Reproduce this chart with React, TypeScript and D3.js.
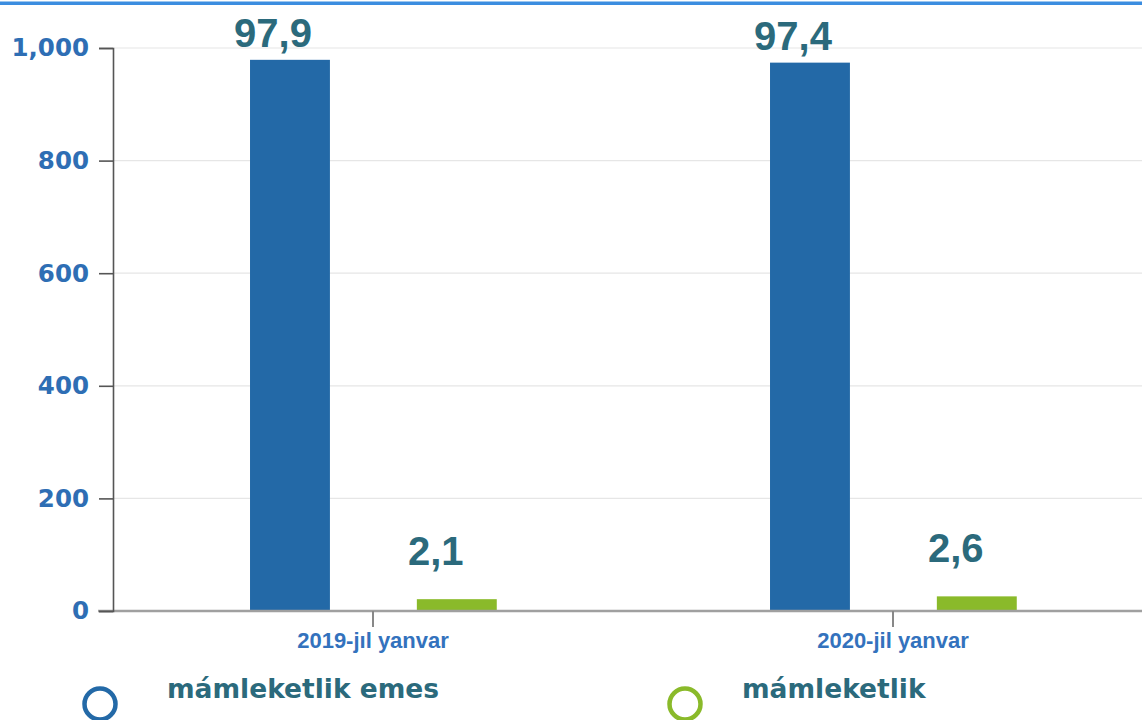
import { useEffect, useRef } from "react";
import * as d3 from "d3";

const categories = ["2019-jıl yanvar", "2020-jil yanvar"];
const seriesNames = ["mámleketlik emes", "mámleketlik"];
const nonStateValues = [979, 974];
const stateValues = [21, 26];
const valueLabels = [
  ["97,9", "2,1"],
  ["97,4", "2,6"],
];
const yTicks = [0, 200, 400, 600, 800, 1000];

const colors = ["#2369a7", "#8aba2a"];
const labelColor = "#2b6a7c";

const width = 1142;
const height = 720;
const margin = { left: 113, top: 48, bottom: 611 };

const App = () => {
  const yAxisRef = useRef<SVGGElement>(null);
  const xAxisRef = useRef<SVGGElement>(null);

  const x0 = d3
    .scaleBand<string>()
    .domain(categories)
    .range([margin.left, margin.left + 1040]);
  const bw = x0.bandwidth();
  const x1 = d3
    .scaleBand<string>()
    .domain(seriesNames)
    .range([bw * 0.2635, bw * 0.738])
    .paddingInner(0.521);
  const y = d3.scaleLinear().domain([0, 1000]).range([margin.bottom, margin.top]);

  const rows = categories.map((c, i) => ({
    category: c,
    values: [nonStateValues[i], stateValues[i]],
    labels: valueLabels[i],
  }));

  useEffect(() => {
    const yg = d3.select(yAxisRef.current!);
    yg.selectAll("*").remove();
    yg.call(
      d3
        .axisLeft(y)
        .tickValues(yTicks)
        .tickSize(14)
        .tickPadding(10)
        .tickFormat(d3.format(","))
    );
    yg.select(".domain").attr("stroke", "#555").attr("stroke-width", 1.6);
    yg.selectAll(".tick line").attr("stroke", "#555").attr("stroke-width", 1.6);
    yg.selectAll(".tick text")
      .attr("fill", "#2e6eb4")
      .attr("font-family", "DejaVu Sans")
      .attr("font-weight", "bold")
      .attr("font-size", 24.5);

    const xg = d3.select(xAxisRef.current!);
    xg.selectAll("*").remove();
    xg.call(d3.axisBottom(x0).tickSize(16).tickSizeOuter(0).tickPadding(5));
    xg.select(".domain").remove();
    xg.selectAll(".tick line").attr("stroke", "#888").attr("stroke-width", 2);
    xg.selectAll(".tick text")
      .attr("fill", "#3372bd")
      .attr("font-family", "Liberation Sans, Arial, sans-serif")
      .attr("font-weight", "bold")
      .attr("font-size", 22);
  }, []);

  return (
    <svg
      width={width}
      height={height}
      style={{ position: "absolute", left: 0, top: 0, background: "#fff" }}
    >
      <rect x={0} y={1.5} width={width} height={3.5} fill="#3b8de0" />
      {yTicks
        .filter((t) => t > 0)
        .map((t) => (
          <line
            key={t}
            x1={margin.left}
            x2={width}
            y1={y(t)}
            y2={y(t)}
            stroke="#e6e6e6"
            strokeWidth={1.2}
          />
        ))}
      {rows.map((r) => (
        <g key={r.category} transform={`translate(${x0(r.category)},0)`}>
          {r.values.map((v, j) => (
            <rect
              key={j}
              x={x1(seriesNames[j])}
              y={y(v)}
              width={x1.bandwidth()}
              height={y(0) - y(v)}
              fill={colors[j]}
            />
          ))}
          {r.values.map((v, j) => (
            <text
              key={"l" + j}
              x={(x1(seriesNames[j]) ?? 0) + x1.bandwidth() / 2 + (j === 0 ? -17 : -21)}
              y={y(v) - (j === 0 ? 13 : 34)}
              textAnchor="middle"
              fill={labelColor}
              fontFamily="Liberation Sans, Arial, sans-serif"
              fontWeight="bold"
              fontSize={40}
            >
              {r.labels[j]}
            </text>
          ))}
        </g>
      ))}
      <line
        x1={margin.left - 15}
        x2={width}
        y1={y(0)}
        y2={y(0)}
        stroke="#a0a0a0"
        strokeWidth={2.5}
      />
      <g ref={xAxisRef} transform={`translate(0,${margin.bottom})`} />
      <g ref={yAxisRef} transform={`translate(${margin.left},0)`} />
      {seriesNames.map((s, i) => {
        const lx = i === 0 ? 100 : 685;
        const tx = i === 0 ? 167 : 742;
        return (
          <g key={s}>
            <circle cx={lx} cy={704} r={15.5} fill="none" stroke={colors[i]} strokeWidth={4.5} />
            <text
              x={tx}
              y={698}
              fill={labelColor}
              fontFamily="DejaVu Sans"
              fontWeight="bold"
              fontSize={26.5}
            >
              {s}
            </text>
          </g>
        );
      })}
    </svg>
  );
};

export default App;
